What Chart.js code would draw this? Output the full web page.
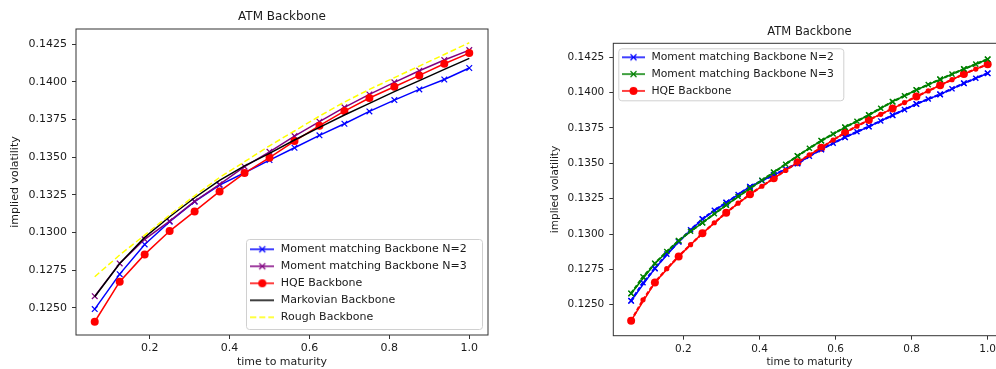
<!DOCTYPE html>
<html>
<head>
<meta charset="utf-8">
<script src="https://cdn.jsdelivr.net/npm/chart.js@4.4.1/dist/chart.umd.min.js"></script>
<style>
  html, body { margin: 0; padding: 0; background: #fff; overflow: hidden; }
  body { width: 996px; height: 369px; position: relative; }
  canvas { position: absolute; top: 0; }
  #leftChart { left: 0; }
  #rightChart { left: 500px; }
</style>
</head>
<body>
<canvas id="leftChart" width="500" height="369"></canvas>
<canvas id="rightChart" width="520" height="369"></canvas>
<script>
// ---- data ----
const maturities = [0.0625, 0.125, 0.1875, 0.25, 0.3125, 0.375, 0.4375, 0.5,
  0.5625, 0.625, 0.6875, 0.75, 0.8125, 0.875, 0.9375, 1.0]

// left panel
const leftMomentN2 = [0.12491, 0.12723, 0.12920, 0.13071, 0.13204, 0.13314, 0.13396, 0.13480,
  0.13562, 0.13644, 0.13721, 0.13803, 0.13878, 0.13949, 0.14015, 0.14091]
const leftMomentN3 = [0.12577, 0.12794, 0.12954, 0.13075, 0.13206, 0.13319, 0.13436, 0.13535,
  0.13639, 0.13735, 0.13830, 0.13916, 0.13996, 0.14073, 0.14144, 0.14210]
const leftHqe = [0.12407, 0.12673, 0.12854, 0.13009, 0.13139, 0.13272, 0.13394, 0.13496,
  0.13606, 0.13708, 0.13805, 0.13892, 0.13967, 0.14042, 0.14119, 0.14190]
const leftMarkovian = [0.12573, 0.12794, 0.12967, 0.13104, 0.13230, 0.13345, 0.13442, 0.13524,
  0.13613, 0.13697, 0.13779, 0.13856, 0.13934, 0.14007, 0.14082, 0.14155]
const leftRough = [0.12706, 0.12850, 0.12982, 0.13115, 0.13243, 0.13365, 0.13469, 0.13575,
  0.13673, 0.13772, 0.13865, 0.13949, 0.14027, 0.14104, 0.14181, 0.14259]

// right panel, finer grid (every other point is the marked one)
const fineMaturities = [0.0625, 0.09375, 0.125, 0.15625, 0.1875, 0.21875, 0.25, 0.28125,
  0.3125, 0.34375, 0.375, 0.40625, 0.4375, 0.46875, 0.5, 0.53125, 0.5625, 0.59375,
  0.625, 0.65625, 0.6875, 0.71875, 0.75, 0.78125, 0.8125, 0.84375, 0.875, 0.90625,
  0.9375, 0.96875, 1.0]
const rightMomentN2 = [0.12528, 0.12655, 0.12757, 0.12858, 0.12946, 0.13030, 0.13106, 0.13168,
  0.13222, 0.13280, 0.13335, 0.13378, 0.13417, 0.13460, 0.13500, 0.13550, 0.13599, 0.13643,
  0.13684, 0.13723, 0.13760, 0.13800, 0.13840, 0.13880, 0.13920, 0.13955, 0.13988, 0.14027,
  0.14066, 0.14102, 0.14137]
const rightMomentN3 = [0.12580, 0.12697, 0.12792, 0.12877, 0.12953, 0.13020, 0.13080, 0.13143,
  0.13205, 0.13265, 0.13323, 0.13380, 0.13436, 0.13494, 0.13552, 0.13607, 0.13660, 0.13708,
  0.13755, 0.13798, 0.13842, 0.13890, 0.13936, 0.13978, 0.14019, 0.14057, 0.14094, 0.14131,
  0.14167, 0.14202, 0.14236]
const rightHqe = [0.12387, 0.12535, 0.12658, 0.12755, 0.12842, 0.12925, 0.13005, 0.13080,
  0.13151, 0.13218, 0.13281, 0.13338, 0.13394, 0.13450, 0.13507, 0.13560, 0.13611, 0.13665,
  0.13717, 0.13763, 0.13807, 0.13847, 0.13887, 0.13930, 0.13972, 0.14012, 0.14052, 0.14092,
  0.14132, 0.14167, 0.14200]

const yTickStep = 0.0025
const xTickStep = 0.2

// ---- styling helpers ----
const FONT = "'DejaVu Sans', sans-serif"
const INK = "#1a1a1a"
const AXIS = "#333333"

function points(xs, ys) {
  return xs.map((x, i) => ({ x, y: ys[i] }))
}

function everyOther(values) {
  return values.filter((_, i) => i % 2 === 0)
}

// little line + marker picture used as the legend handle
function legendHandle(width, color, marker, dash) {
  const c = document.createElement("canvas")
  c.width = width
  c.height = 12
  const g = c.getContext("2d")
  g.strokeStyle = color
  g.fillStyle = color
  g.lineWidth = 1.5
  g.setLineDash(dash || [])
  g.beginPath()
  g.moveTo(0, 6)
  g.lineTo(width, 6)
  g.stroke()
  g.setLineDash([])
  const cx = width / 2
  if (marker === "x") {
    g.lineWidth = 1.2
    g.beginPath()
    g.moveTo(cx - 3, 3); g.lineTo(cx + 3, 9)
    g.moveTo(cx - 3, 9); g.lineTo(cx + 3, 3)
    g.stroke()
  } else if (marker === "o") {
    g.beginPath()
    g.arc(cx, 6, 4, 0, Math.PI * 2)
    g.fill()
  }
  return c
}

function lineStyle(color, extra) {
  return Object.assign({
    borderColor: color,
    backgroundColor: color,
    pointBorderColor: color,
    pointBackgroundColor: color,
    borderWidth: 1.5,
    pointRadius: 0,
    tension: 0,
    fill: false,
  }, extra)
}

// box around the plot and the matplotlib-like legend frame
const panelFrame = {
  id: "panelFrame",
  beforeDraw(chart, args, opts) {
    const area = chart.chartArea
    const box = opts.legendBox
    const legend = chart.legend
    const fx = box.anchor === "lowerRight" ? area.right - box.inset - box.w : area.left + box.inset
    const fy = box.anchor === "lowerRight" ? area.bottom - box.inset - box.h : area.top + box.inset
    legend.left = fx + box.shiftX
    legend.top = fy + box.shiftY
    legend.right = legend.left + box.w + 10
    legend.bottom = legend.top + box.h + 10

    const ctx = chart.ctx
    ctx.save()
    ctx.beginPath()
    ctx.roundRect(fx + 0.5, fy + 0.5, box.w, box.h, 3)
    ctx.fillStyle = "rgba(255,255,255,0.8)"
    ctx.fill()
    ctx.strokeStyle = "#d0d0d0"
    ctx.lineWidth = 1
    ctx.stroke()
    ctx.restore()
  },
  afterDatasetsDraw(chart) {
    const { ctx, chartArea: a } = chart
    ctx.save()
    ctx.strokeStyle = AXIS
    ctx.lineWidth = 1
    ctx.strokeRect(a.left, a.top, a.right - a.left, a.bottom - a.top)
    ctx.restore()
  },
}

function panelOptions(p) {
  return {
    responsive: false,
    animation: false,
    events: [],
    layout: { padding: { left: 0, right: p.padRight, top: 0, bottom: 0 } },
    scales: {
      x: {
        type: "linear",
        min: 0.015625,
        max: 1.046875,
        afterFit: (s) => { s.height = p.xAxisHeight },
        border: { display: false },
        grid: { drawOnChartArea: false, drawTicks: true, tickLength: 4, color: AXIS },
        ticks: {
          stepSize: xTickStep, includeBounds: false, autoSkip: false, maxRotation: 0,
          padding: 3, color: INK, font: { family: FONT, size: p.tickSize },
          callback: (v) => v.toFixed(1),
        },
        title: {
          display: true, text: "time to maturity", color: INK,
          font: { family: FONT, size: p.labelSize }, padding: { top: 0, bottom: 0 },
        },
      },
      y: {
        type: "linear",
        min: p.yMin,
        max: p.yMax,
        afterFit: (s) => { s.width = p.yAxisWidth },
        border: { display: false },
        grid: { drawOnChartArea: false, drawTicks: true, tickLength: 4, color: AXIS },
        ticks: {
          stepSize: yTickStep, includeBounds: false, autoSkip: false,
          padding: 5, color: INK, font: { family: FONT, size: p.tickSize },
          callback: (v) => v.toFixed(4),
        },
        title: {
          display: true, text: "implied volatility", color: INK,
          font: { family: FONT, size: p.labelSize }, padding: { top: p.yTitlePad, bottom: 0 },
        },
      },
    },
    plugins: {
      title: {
        display: true, text: "ATM Backbone", fullSize: false, color: INK,
        font: { family: FONT, size: p.titleSize, weight: "normal" },
        padding: { top: p.titleTop, bottom: p.titleBottom },
      },
      legend: {
        position: "chartArea",
        align: "start",
        labels: {
          usePointStyle: true,
          pointStyleWidth: p.handleWidth + 2,
          padding: 6,
          color: INK,
          font: { family: FONT, size: p.legendSize },
          generateLabels: (chart) => chart.data.datasets
            .map((ds, i) => ({ ds, i }))
            .filter(({ ds }) => ds.handle)
            .map(({ ds, i }) => ({
              text: ds.label,
              pointStyle: ds.handle,
              fillStyle: ds.borderColor,
              strokeStyle: ds.borderColor,
              lineWidth: 0,
              hidden: false,
              datasetIndex: i,
              fontColor: INK,
            })),
        },
      },
      tooltip: { enabled: false },
      panelFrame: { legendBox: p.legendBox },
    },
  }
}

// ---- left panel ----
const leftParams = {
  padRight: 12, xAxisHeight: 34, yAxisWidth: 76,
  yMin: 0.12319, yMax: 0.1435,
  tickSize: 11, labelSize: 11, titleSize: 12, legendSize: 11,
  yTitlePad: 8.4, titleTop: 9.8, titleBottom: 4.8, handleWidth: 24,
  legendBox: { anchor: "lowerRight", inset: 6, w: 236, h: 90, shiftX: -2.7, shiftY: -1.2 },
}

const leftDatasets = [
  Object.assign({ label: "Moment matching Backbone N=2", data: points(maturities, leftMomentN2),
    handle: legendHandle(24, "#0000ff", "x") },
    lineStyle("#0000ff", { pointStyle: "crossRot", pointRadius: 4, pointBorderWidth: 1.2 })),
  Object.assign({ label: "Moment matching Backbone N=3", data: points(maturities, leftMomentN3),
    handle: legendHandle(24, "#800080", "x") },
    lineStyle("#800080", { pointStyle: "crossRot", pointRadius: 4, pointBorderWidth: 1.2 })),
  Object.assign({ label: "HQE Backbone", data: points(maturities, leftHqe),
    handle: legendHandle(24, "#ff0000", "o") },
    lineStyle("#ff0000", { pointStyle: "circle", pointRadius: 4, pointBorderWidth: 0 })),
  Object.assign({ label: "Markovian Backbone", data: points(maturities, leftMarkovian),
    handle: legendHandle(24, "#000000") },
    lineStyle("#000000")),
  Object.assign({ label: "Rough Backbone", data: points(maturities, leftRough),
    handle: legendHandle(24, "#ffff00", null, [6, 3]) },
    lineStyle("#ffff00", { borderDash: [6, 3] })),
]
leftDatasets.forEach((ds, i) => { ds.order = -i })

new Chart(document.getElementById("leftChart"), {
  type: "line",
  data: { datasets: leftDatasets },
  options: panelOptions(leftParams),
  plugins: [panelFrame],
})

// ---- right panel ----
const rightParams = {
  padRight: 14.5, xAxisHeight: 33.3, yAxisWidth: 113.3,
  yMin: 0.12281, yMax: 0.14349,
  tickSize: 10.5, labelSize: 10.5, titleSize: 11.5, legendSize: 10.8,
  yTitlePad: 48.7, titleTop: 25.1, titleBottom: 4.4, handleWidth: 23,
  legendBox: { anchor: "upperLeft", inset: 5, w: 225, h: 52, shiftX: -3.3, shiftY: -2.4 },
}

const rightDatasets = [
  Object.assign({ label: "Moment matching Backbone N=2",
    data: points(everyOther(fineMaturities), everyOther(rightMomentN2)),
    handle: legendHandle(23, "#0000ff", "x") },
    lineStyle("#0000ff", { pointStyle: "crossRot", pointRadius: 4, pointBorderWidth: 1.3 })),
  Object.assign({ label: "Moment matching Backbone N=3",
    data: points(everyOther(fineMaturities), everyOther(rightMomentN3)),
    handle: legendHandle(23, "#008000", "x") },
    lineStyle("#008000", { pointStyle: "crossRot", pointRadius: 4, pointBorderWidth: 1.3 })),
  Object.assign({ label: "HQE Backbone",
    data: points(everyOther(fineMaturities), everyOther(rightHqe)),
    handle: legendHandle(23, "#ff0000", "o") },
    lineStyle("#ff0000", { pointStyle: "circle", pointRadius: 4, pointBorderWidth: 0 })),
  Object.assign({ label: "N=2 fine", data: points(fineMaturities, rightMomentN2) },
    lineStyle("#0000ff", { borderWidth: 2.2, borderDash: [4, 2], pointStyle: "crossRot", pointRadius: 3.6, pointBorderWidth: 1.4 })),
  Object.assign({ label: "N=3 fine", data: points(fineMaturities, rightMomentN3) },
    lineStyle("#008000", { borderWidth: 2.2, borderDash: [4, 2], pointStyle: "crossRot", pointRadius: 3.6, pointBorderWidth: 1.4 })),
  Object.assign({ label: "HQE fine", data: points(fineMaturities, rightHqe) },
    lineStyle("#ff0000", { borderWidth: 2.2, borderDash: [4, 2], pointStyle: "circle", pointRadius: 2.6, pointBorderWidth: 0 })),
]
rightDatasets.forEach((ds, i) => { ds.order = -i })

new Chart(document.getElementById("rightChart"), {
  type: "line",
  data: { datasets: rightDatasets },
  options: panelOptions(rightParams),
  plugins: [panelFrame],
})
</script>
</body>
</html>
